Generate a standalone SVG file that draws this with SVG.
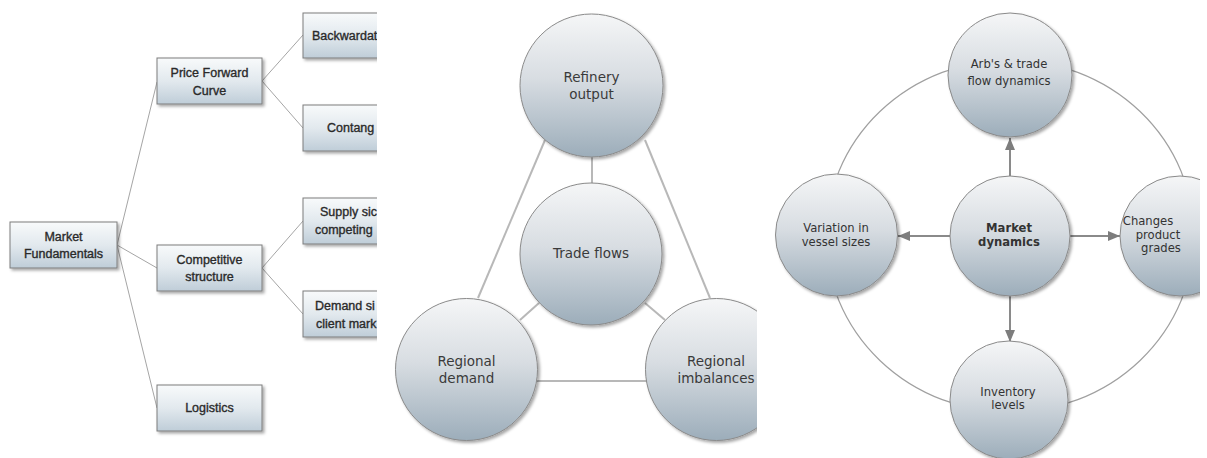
<svg xmlns="http://www.w3.org/2000/svg" width="1207" height="458" viewBox="0 0 1207 458">
  <defs>
    <linearGradient id="boxFill" x1="0" y1="0" x2="0" y2="1">
      <stop offset="0" stop-color="#f8fafb"/>
      <stop offset="0.5" stop-color="#e2e9ee"/>
      <stop offset="1" stop-color="#bfcdd8"/>
    </linearGradient>
    <linearGradient id="ballFill" x1="0" y1="0" x2="0" y2="1">
      <stop offset="0" stop-color="#f5f6f7"/>
      <stop offset="0.45" stop-color="#d8dde2"/>
      <stop offset="1" stop-color="#9cadba"/>
    </linearGradient>
    <filter id="shadow" x="-20%" y="-20%" width="140%" height="140%">
      <feDropShadow dx="2" dy="2" stdDeviation="1.6" flood-color="#000" flood-opacity="0.35"/>
    </filter>
    <marker id="arrow" viewBox="0 0 12 10" refX="12" refY="5" markerWidth="12" markerHeight="10" markerUnits="userSpaceOnUse" orient="auto">
      <path d="M0,0 L12,5 L0,10 z" fill="#7d7d7d"/>
    </marker>
    <clipPath id="clipLeft"><rect x="0" y="0" width="377" height="458"/></clipPath>
    <clipPath id="clipMid"><rect x="380" y="0" width="377" height="458"/></clipPath>
    <clipPath id="clipRight"><rect x="760" y="0" width="440" height="458"/></clipPath>
    <style>
      .box { fill: url(#boxFill); stroke: #7c7c7c; stroke-width: 1; filter: url(#shadow); }
      .ball { fill: url(#ballFill); stroke: #8a8a8a; stroke-width: 1; filter: url(#shadow); }
      .tree { stroke: #a5a5a5; stroke-width: 1; fill: none; }
      .tri { stroke: #b8b8b8; stroke-width: 2; fill: none; }
      .ring { stroke: #a0a0a0; stroke-width: 1.2; fill: none; }
      .arr { stroke: #8a8a8a; stroke-width: 2; fill: none; marker-end: url(#arrow); }
      .bt { font-family: "Liberation Sans", Arial, sans-serif; font-size: 12.5px; fill: #2a2a2a; stroke: #2a2a2a; stroke-width: 0.35; }
      .mt { font-family: "DejaVu Sans", Verdana, sans-serif; font-size: 13.5px; fill: #3a3a3a; text-anchor: middle; }
      .rt { font-family: "DejaVu Sans", Verdana, sans-serif; font-size: 11.6px; fill: #333; text-anchor: middle; }
      .c { text-anchor: middle; }
    </style>
  </defs>
  <rect width="1207" height="458" fill="#ffffff"/>

  <!-- Left: tree of market fundamentals -->
  <g clip-path="url(#clipLeft)">
    <g id="tree-connectors">
      <line class="tree" x1="117" y1="245" x2="157" y2="82"/>
      <line class="tree" x1="117" y1="245" x2="157" y2="268"/>
      <line class="tree" x1="117" y1="245" x2="157" y2="408"/>
      <line class="tree" x1="262" y1="81" x2="303" y2="35"/>
      <line class="tree" x1="262" y1="81" x2="303" y2="128"/>
      <line class="tree" x1="262" y1="268" x2="303" y2="221"/>
      <line class="tree" x1="262" y1="268" x2="303" y2="314"/>
    </g>
    <g id="market-fundamentals">
      <rect class="box" x="10" y="222" width="107" height="46"/>
      <text class="bt c" x="63.5" y="241">Market</text>
      <text class="bt c" x="63.5" y="258">Fundamentals</text>
    </g>
    <g id="price-forward-curve">
      <rect class="box" x="157" y="58" width="105" height="46"/>
      <text class="bt c" x="209.5" y="77">Price Forward</text>
      <text class="bt c" x="209.5" y="95">Curve</text>
    </g>
    <g id="competitive-structure">
      <rect class="box" x="157" y="245" width="105" height="46"/>
      <text class="bt c" x="209.5" y="264">Competitive</text>
      <text class="bt c" x="209.5" y="281">structure</text>
    </g>
    <g id="logistics">
      <rect class="box" x="157" y="385" width="105" height="46"/>
      <text class="bt c" x="209.5" y="412">Logistics</text>
    </g>
    <g id="backwardation">
      <rect class="box" x="303" y="13" width="105" height="45"/>
      <text class="bt" x="312" y="40">Backwardat</text>
    </g>
    <g id="contango">
      <rect class="box" x="303" y="105" width="105" height="46"/>
      <text class="bt" x="327" y="132">Contang</text>
    </g>
    <g id="supply-side">
      <rect class="box" x="303" y="198" width="105" height="46"/>
      <text class="bt" x="320" y="216">Supply sic</text>
      <text class="bt" x="315" y="234">competing</text>
    </g>
    <g id="demand-side">
      <rect class="box" x="303" y="291" width="105" height="46"/>
      <text class="bt" x="315" y="310">Demand si</text>
      <text class="bt" x="316" y="328">client mark</text>
    </g>
  </g>

  <!-- Middle: trade-flow triangle -->
  <g clip-path="url(#clipMid)">
    <g id="triangle-connectors">
      <line class="tri" x1="592" y1="150" x2="592" y2="190"/>
      <line class="tri" x1="545" y1="140" x2="478" y2="298"/>
      <line class="tri" x1="645" y1="140" x2="710" y2="298"/>
      <line class="tri" x1="539" y1="303" x2="520" y2="320"/>
      <line class="tri" x1="645" y1="303" x2="665" y2="320"/>
      <line class="tri" x1="530" y1="381" x2="652" y2="381"/>
    </g>
    <g id="refinery-output">
      <circle class="ball" cx="591.5" cy="85.5" r="71.5"/>
      <text class="mt" x="591.5" y="82">Refinery</text>
      <text class="mt" x="591.5" y="99">output</text>
    </g>
    <g id="trade-flows">
      <circle class="ball" cx="591" cy="254" r="71"/>
      <text class="mt" x="591" y="258">Trade flows</text>
    </g>
    <g id="regional-demand">
      <circle class="ball" cx="466.5" cy="369.5" r="71"/>
      <text class="mt" x="466.5" y="366">Regional</text>
      <text class="mt" x="466.5" y="383">demand</text>
    </g>
    <g id="regional-imbalances">
      <circle class="ball" cx="716.5" cy="369.5" r="71"/>
      <text class="mt" x="716" y="366">Regional</text>
      <text class="mt" x="716" y="383">imbalances</text>
    </g>
  </g>

  <!-- Right: market dynamics wheel -->
  <g clip-path="url(#clipRight)">
    <g id="wheel-connectors">
      <ellipse class="ring" cx="1010" cy="236" rx="184" ry="176"/>
      <line class="arr" x1="1010" y1="177" x2="1010" y2="138"/>
      <line class="arr" x1="950" y1="236" x2="898" y2="236"/>
      <line class="arr" x1="1070" y1="236" x2="1120" y2="236"/>
      <line class="arr" x1="1010" y1="296" x2="1010" y2="342"/>
    </g>
    <g id="arbs-trade-flow">
      <circle class="ball" cx="1010" cy="75" r="62"/>
      <text class="rt" x="1009" y="68">Arb's &amp; trade</text>
      <text class="rt" x="1009" y="85">flow dynamics</text>
    </g>
    <g id="market-dynamics">
      <circle class="ball" cx="1010" cy="236" r="60"/>
      <text class="rt" x="1009" y="232" font-weight="bold">Market</text>
      <text class="rt" x="1009" y="246" font-weight="bold">dynamics</text>
    </g>
    <g id="vessel-sizes">
      <circle class="ball" cx="836.5" cy="235" r="61"/>
      <text class="rt" x="836" y="232">Variation in</text>
      <text class="rt" x="836" y="246">vessel sizes</text>
    </g>
    <g id="product-grades">
      <circle class="ball" cx="1180" cy="236" r="60"/>
      <text class="rt" x="1148" y="225" text-anchor="start">Changes</text>
      <text class="rt" x="1158" y="239" text-anchor="start">product</text>
      <text class="rt" x="1161" y="252" text-anchor="start">grades</text>
    </g>
    <g id="inventory-levels">
      <circle class="ball" cx="1009" cy="400" r="59"/>
      <text class="rt" x="1008" y="396">Inventory</text>
      <text class="rt" x="1008" y="409">levels</text>
    </g>
  </g>
</svg>
